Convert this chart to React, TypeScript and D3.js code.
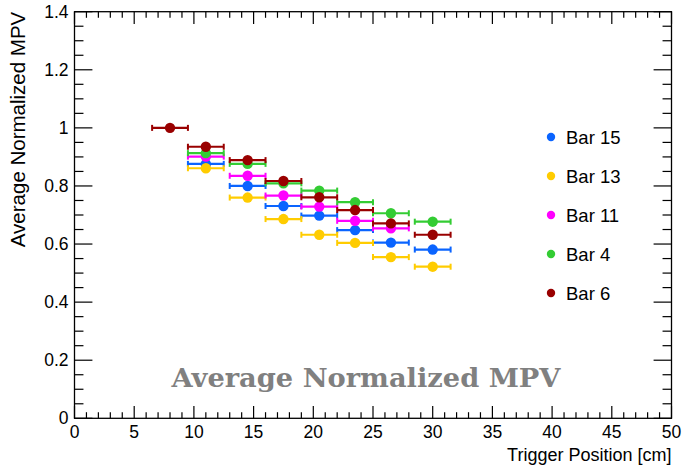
import React from "react";
import * as d3 from "d3";

const xPositions = [8, 11, 14.5, 17.5, 20.5, 23.5, 26.5, 30];
const xError = 1.5;

const seriesNames = ["Bar 15", "Bar 13", "Bar 11", "Bar 4", "Bar 6"];
const seriesColors = ["#0a64ff", "#ffcc00", "#ff00ff", "#33cc33", "#990000"];

// values aligned with xPositions; null = no point
const bar15 = [null, 0.876, 0.8, 0.731, 0.698, 0.648, 0.605, 0.581];
const bar13 = [null, 0.861, 0.76, 0.686, 0.632, 0.604, 0.555, 0.522];
const bar11 = [null, 0.901, 0.835, 0.767, 0.729, 0.68, 0.654, null];
const bar4 = [null, 0.913, 0.876, 0.809, 0.784, 0.744, 0.706, 0.677];
const bar6 = [1.0, 0.935, 0.889, 0.817, 0.761, 0.717, 0.671, 0.632];

const seriesValues = [bar15, bar13, bar11, bar4, bar6];

const xTickLabels = [0, 5, 10, 15, 20, 25, 30, 35, 40, 45, 50];
const yTickLabels = [0, 0.2, 0.4, 0.6, 0.8, 1, 1.2, 1.4];

const W = 684;
const H = 469;
const L = 74.5;
const R = 671.5;
const T = 11.7;
const B = 418.3;

export default function App() {
  const x = d3.scaleLinear().domain([0, 50]).range([L, R]);
  const y = d3.scaleLinear().domain([0, 1.4]).range([B, T]);
  const font = "'Liberation Sans', Arial, Helvetica, sans-serif";

  const xMinor = d3.range(0, 50.001, 1);
  const yMinor = d3.range(0, 1.4001, 0.05);
  const yMajLen = (R - L) * 0.03;
  const yMinLen = yMajLen / 2;
  const xMajLen = (B - T) * 0.03;
  const xMinLen = xMajLen / 2;

  const isMajorX = (v: number) => Math.abs(v / 5 - Math.round(v / 5)) < 1e-6;
  const isMajorY = (v: number) => Math.abs(v / 0.2 - Math.round(v / 0.2)) < 1e-6;

  return (
    <svg width={W} height={H} style={{ position: "absolute", left: 0, top: 0, background: "#fff" }}>
      <rect x={0} y={0} width={W} height={H} fill="#fff" />
      {/* title */}
      <text
        x={366}
        y={387}
        textAnchor="middle"
        fontFamily="'DejaVu Serif', 'Liberation Serif', serif"
        fontWeight="bold"
        fontSize={26}
        textLength={389}
        lengthAdjust="spacingAndGlyphs"
        fill="#808080"
      >
        Average Normalized MPV
      </text>

      {/* data */}
      {seriesValues.map((vals, si) => (
        <g key={si}>
          {vals.map((v, i) => {
            if (v == null) return null;
            const cx = x(xPositions[i]);
            const cy = y(v);
            const x0 = x(xPositions[i] - xError);
            const x1 = x(xPositions[i] + xError);
            const c = seriesColors[si];
            return (
              <g key={i}>
                <line x1={x0} x2={x1} y1={cy} y2={cy} stroke={c} strokeWidth={2.2} />
                <line x1={x0} x2={x0} y1={cy - 3} y2={cy + 3} stroke={c} strokeWidth={2} />
                <line x1={x1} x2={x1} y1={cy - 3} y2={cy + 3} stroke={c} strokeWidth={2} />
                <circle cx={cx} cy={cy} r={5.2} fill={c} />
              </g>
            );
          })}
        </g>
      ))}

      {/* frame */}
      <rect x={L} y={T} width={R - L} height={B - T} fill="none" stroke="#000" strokeWidth={1.3} />

      {/* x ticks */}
      {xMinor.map((v) => {
        const len = isMajorX(v) ? xMajLen : xMinLen;
        return (
          <g key={"xt" + v}>
            <line x1={x(v)} x2={x(v)} y1={B} y2={B - len} stroke="#000" strokeWidth={1.2} />
            <line x1={x(v)} x2={x(v)} y1={T} y2={T + len} stroke="#000" strokeWidth={1.2} />
          </g>
        );
      })}
      {/* y ticks */}
      {yMinor.map((v) => {
        const len = isMajorY(v) ? yMajLen : yMinLen;
        return (
          <g key={"yt" + v}>
            <line x1={L} x2={L + len} y1={y(v)} y2={y(v)} stroke="#000" strokeWidth={1.2} />
            <line x1={R} x2={R - len} y1={y(v)} y2={y(v)} stroke="#000" strokeWidth={1.2} />
          </g>
        );
      })}

      {/* x tick labels */}
      {xTickLabels.map((v) => (
        <text key={"xl" + v} x={x(v)} y={B + 20} textAnchor="middle" fontFamily={font} fontSize={17.5} fill="#000">
          {v}
        </text>
      ))}
      {/* y tick labels */}
      {yTickLabels.map((v) => (
        <text key={"yl" + v} x={L - 6} y={y(v) + 6} textAnchor="end" fontFamily={font} fontSize={17.5} fill="#000">
          {String(v)}
        </text>
      ))}

      {/* axis titles */}
      <text x={R} y={461} textAnchor="end" fontFamily={font} fontSize={18} fill="#000">
        Trigger Position [cm]
      </text>
      <text
        transform={`translate(25, ${T}) rotate(-90)`}
        textAnchor="end"
        fontFamily={font}
        fontSize={20.5}
        fill="#000"
      >
        Average Normalized MPV
      </text>

      {/* legend */}
      {seriesNames.map((n, i) => {
        const ly = 137 + i * 39;
        return (
          <g key={"lg" + i}>
            <circle cx={551} cy={ly} r={4.2} fill={seriesColors[i]} />
            <text x={566} y={ly + 6.5} fontFamily={font} fontSize={18.5} fill="#000">
              {n}
            </text>
          </g>
        );
      })}
    </svg>
  );
}
